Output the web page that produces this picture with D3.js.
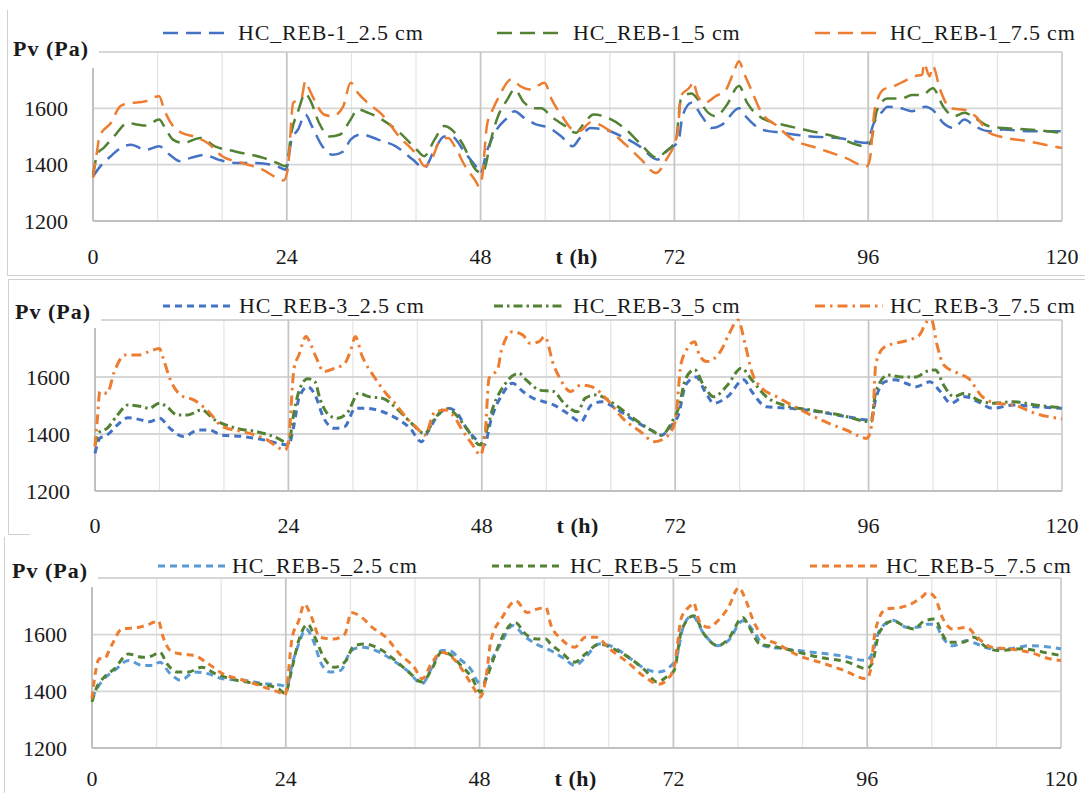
<!DOCTYPE html>
<html>
<head>
<meta charset="utf-8">
<script src="https://cdn.jsdelivr.net/npm/d3@7"></script>
<style>
  html, body { margin: 0; padding: 0; background: #fff; }
  svg { display: block; }
  text { font-family: 'Liberation Serif', 'Times New Roman', serif; fill: #1a1a1a; }
</style>
</head>
<body>
<svg id="chart" width="1085" height="793"></svg>
<script>
// ---------------- DATA ----------------
const xTickLabels = [0, 24, 48, 72, 96, 120];
const majorGrid = [24, 48, 72, 96, 120];
const minorGrid = [8, 16, 32, 40, 56, 64, 80, 88, 104, 112];
const yTickLabels = [1200, 1400, 1600];
const yGridValues = [1200, 1400, 1600, 1800];

const names1 = ["HC_REB-1_2.5 cm", "HC_REB-1_5 cm", "HC_REB-1_7.5 cm"];
const names2 = ["HC_REB-3_2.5 cm", "HC_REB-3_5 cm", "HC_REB-3_7.5 cm"];
const names3 = ["HC_REB-5_2.5 cm", "HC_REB-5_5 cm", "HC_REB-5_7.5 cm"];

const p1Blue = [[0,1358],[0.9,1394],[2.2,1430],[3.4,1459],[4.7,1471],[6.5,1453],[8.2,1465],[9.5,1435],[10.8,1412],[12.1,1424],[13.8,1435],[15.5,1418],[17.6,1406],[20.2,1406],[22.8,1394],[23.9,1382],[24.6,1489],[25.4,1525],[26.3,1578],[27.1,1537],[28.4,1465],[29.7,1435],[31,1447],[31.9,1489],[33.2,1507],[35.3,1489],[37.5,1465],[39.6,1418],[41,1388],[42.3,1453],[43.5,1500],[44.4,1500],[46.1,1441],[47.4,1394],[48,1370],[48.7,1441],[50,1525],[51.3,1566],[52.2,1590],[53.4,1566],[54.7,1545],[56.5,1530],[58,1500],[59.4,1465],[60.3,1495],[61.6,1530],[63.3,1525],[65.5,1500],[67.7,1465],[69.9,1418],[71.2,1453],[72.5,1483],[73,1572],[74.1,1620],[75.4,1572],[76.6,1530],[77.9,1542],[80,1600],[81,1566],[82.8,1525],[85.4,1513],[88.9,1500],[92.3,1495],[95.8,1477],[96.7,1548],[97.8,1590],[98.4,1606],[100.1,1600],[101.4,1590],[103.1,1606],[104,1594],[105.3,1548],[106.6,1530],[107.9,1560],[109.2,1537],[110.9,1519],[112.7,1525],[115.7,1519],[120,1519]];
const p1Green = [[0,1364],[0.6,1441],[1.3,1459],[2.6,1500],[4.3,1548],[5.6,1542],[6.5,1539],[8.2,1560],[8.8,1537],[9.9,1489],[11.2,1477],[13.3,1495],[15.1,1465],[17.6,1447],[21.1,1424],[22.8,1406],[23.9,1394],[24.6,1519],[25.4,1590],[26.3,1653],[26.9,1629],[28,1548],[29.3,1500],[30.6,1507],[31.9,1560],[32.8,1596],[34.1,1584],[35.8,1560],[38,1513],[40.1,1453],[41,1430],[42.3,1489],[43.5,1537],[44.4,1525],[45.7,1477],[47.4,1382],[48.2,1370],[48.7,1406],[49.1,1465],[50,1560],[51.3,1631],[52.2,1667],[53.4,1620],[54.7,1600],[55.5,1600],[56.8,1570],[58.5,1537],[59.8,1513],[60.7,1542],[62,1578],[63.8,1566],[66,1525],[67.7,1477],[69.9,1424],[70.7,1441],[72.2,1489],[72.8,1631],[74.1,1653],[75,1629],[76.2,1584],[77.1,1572],[78.4,1608],[80,1679],[81,1620],[82.8,1566],[85.4,1542],[88,1525],[91.8,1500],[95.8,1465],[96.4,1489],[97.1,1594],[98.4,1635],[100.1,1635],[101.4,1647],[102.7,1647],[104,1671],[105.3,1606],[106.6,1572],[107.9,1584],[109.2,1566],[110.9,1537],[112.7,1530],[115.7,1525],[120,1513]];
const p1Orange = [[0,1353],[0.5,1447],[0.8,1500],[2.2,1548],[3.4,1608],[4.3,1617],[6.5,1625],[7.3,1637],[8.2,1643],[8.8,1596],[9.9,1537],[11,1513],[12.5,1500],[14.2,1477],[16,1430],[18.5,1406],[21,1382],[22.8,1353],[23.6,1344],[24.1,1380],[24.8,1620],[25.8,1634],[26.3,1697],[26.7,1673],[27.5,1625],[28.6,1578],[29.7,1572],[31,1608],[31.9,1691],[32.8,1655],[34,1620],[35.8,1578],[37.9,1500],[40.1,1435],[41.1,1394],[41.8,1412],[43.1,1489],[44,1495],[44.8,1465],[46.1,1394],[47.4,1341],[47.8,1323],[48.2,1358],[48.8,1542],[49.5,1596],[50.3,1643],[51.8,1703],[52.9,1679],[54.2,1667],[55.9,1691],[56.8,1632],[58.1,1572],[59.4,1525],[60.3,1520],[61.6,1550],[62.5,1545],[64,1520],[66,1470],[68,1415],[69.7,1370],[71,1418],[72.4,1513],[72.8,1643],[74,1679],[74.3,1695],[74.9,1643],[75.8,1620],[77.1,1643],[78.4,1667],[79.3,1726],[80,1767],[80.6,1726],[81.5,1667],[82.8,1584],[84.5,1542],[86.7,1489],[89.7,1459],[93.2,1424],[95.8,1394],[96.2,1418],[96.8,1594],[97.9,1667],[99.2,1679],[100.5,1697],[101.8,1714],[102.7,1720],[102.9,1760],[103.6,1714],[104,1750],[104.9,1667],[106.2,1600],[108,1594],[109.3,1572],[111,1513],[112.3,1500],[115.8,1483],[117.9,1471],[120,1459]];

const p2Blue = [[0,1332],[0.6,1385],[1.5,1396],[2.8,1432],[4.1,1457],[5.8,1449],[6.7,1443],[8,1455],[9.3,1420],[11,1391],[12.8,1414],[14.1,1414],[15.8,1396],[18.4,1391],[21,1379],[24,1361],[24.7,1432],[25.3,1525],[26.4,1566],[27.3,1537],[28.4,1455],[29.7,1420],[31,1426],[32.3,1490],[33.5,1490],[35.7,1478],[37.4,1455],[39.1,1420],[40.5,1373],[41.3,1408],[42.6,1467],[43.9,1490],[44.8,1478],[46.1,1420],[47.6,1373],[48.3,1361],[49.2,1455],[50.5,1537],[51.8,1578],[53.1,1549],[54.4,1525],[55.5,1515],[56.9,1502],[58.6,1473],[60.3,1443],[61.6,1502],[62.9,1513],[64.6,1490],[66.8,1449],[69,1414],[70.3,1396],[71.6,1432],[72.4,1467],[73.3,1572],[74.6,1600],[75.7,1549],[76.8,1508],[78.5,1531],[80.5,1590],[81.5,1549],[83.3,1496],[86.3,1490],[89.8,1478],[93.2,1461],[96.3,1449],[96.9,1525],[98,1583],[99.3,1590],[100.6,1578],[101.9,1566],[103.6,1583],[104.9,1549],[106.2,1508],[107.9,1531],[109.6,1513],[111.4,1490],[114,1502],[116.6,1496],[120,1490]];
const p2Green = [[0,1361],[0.6,1408],[1.5,1420],[2.8,1467],[4.1,1502],[5.8,1496],[6.7,1490],[8,1508],[8.9,1496],[10.2,1467],[11.5,1467],[13.2,1484],[14.9,1449],[17.5,1420],[20.1,1408],[22.7,1385],[24,1367],[24.7,1478],[25.3,1549],[26.4,1594],[27.3,1583],[27.9,1525],[29,1467],[30.1,1455],[31.4,1478],[32.7,1543],[34,1531],[35.7,1525],[37.4,1490],[39.1,1443],[40.9,1402],[42.2,1455],[43.5,1490],[44.4,1478],[46.1,1420],[47.8,1361],[48.4,1396],[49.5,1502],[50.8,1572],[52.6,1613],[53.5,1590],[55.2,1554],[56.9,1549],[58.2,1508],[59.9,1478],[60.8,1525],[62.1,1537],[64.6,1502],[66.8,1455],[69,1414],[70.3,1396],[71.6,1443],[72.4,1490],[73.3,1594],[74.4,1626],[75.5,1572],[76.8,1531],[78.5,1572],[80.2,1631],[81.5,1590],[83.3,1531],[85.4,1502],[88.9,1484],[92.4,1467],[96.3,1443],[96.9,1549],[98.4,1607],[100.1,1600],[101.9,1600],[103.1,1619],[104.3,1625],[105.3,1572],[106.6,1531],[107.9,1543],[109.6,1519],[111.4,1508],[114,1513],[116.6,1502],[120,1492]];
const p2Orange = [[0,1356],[0.3,1455],[0.6,1549],[1.5,1543],[2.4,1619],[3.7,1677],[5.4,1677],[6.7,1689],[8,1700],[8.4,1671],[9.3,1594],[10.6,1537],[12.3,1519],[14.1,1478],[15.8,1426],[18.4,1408],[21,1385],[23.6,1344],[24,1373],[24.7,1630],[25.3,1677],[26.2,1742],[26.8,1712],[27.5,1665],[28.4,1619],[29.7,1630],[31,1648],[31.8,1700],[32.3,1742],[33.1,1677],[34.8,1594],[36.1,1543],[37.4,1502],[38.7,1455],[40,1420],[40.9,1396],[42.2,1478],[43.5,1484],[44.4,1467],[45.7,1408],[47,1356],[47.8,1326],[48.4,1396],[48.9,1595],[50,1630],[50.4,1689],[51.8,1759],[53.1,1747],[54,1718],[55.1,1724],[55.8,1742],[56.9,1643],[57.7,1595],[59,1549],[60.3,1572],[61.6,1566],[63.8,1513],[65.5,1455],[67.7,1408],[69.4,1373],[70.7,1385],[72,1443],[72.7,1643],[73.3,1689],[74.4,1724],[75,1677],[75.9,1654],[77.6,1689],[78.7,1752],[79.8,1800],[80.7,1712],[81.5,1619],[82.8,1560],[84.6,1531],[87.2,1490],[90.6,1443],[93.2,1414],[95.8,1385],[96.5,1455],[96.9,1648],[98,1706],[99.3,1718],[101,1730],[102.3,1747],[103.2,1793],[103.8,1800],[104.5,1712],[105.3,1643],[107.1,1613],[108.4,1595],[110.1,1531],[111.8,1508],[114,1502],[116.6,1473],[120,1453]];

const p3Blue = [[0,1374],[0.6,1409],[1.5,1444],[2.8,1474],[4.5,1509],[6.3,1491],[7.5,1491],[8.4,1503],[9.7,1462],[11,1439],[12.7,1468],[14.4,1462],[16.2,1444],[18.8,1439],[21.3,1427],[23.5,1421],[24.1,1415],[24.8,1497],[25.6,1567],[26.5,1620],[27.4,1579],[28.4,1497],[29.5,1468],[30.8,1474],[32.1,1544],[33.4,1556],[35.6,1538],[37.3,1509],[39,1474],[40.9,1427],[42,1480],[43.3,1544],[44.2,1544],[45.5,1515],[47,1474],[47.8,1433],[48.4,1427],[49.3,1497],[50.6,1567],[52.1,1632],[53.7,1591],[55,1567],[56.8,1544],[58.5,1515],[59.8,1491],[61.1,1520],[62.8,1567],[64.6,1556],[66.7,1515],[68.5,1480],[70.2,1468],[71.5,1485],[72.4,1520],[73.2,1626],[74.3,1667],[75.8,1602],[77.5,1561],[78.8,1579],[80.6,1649],[81.9,1614],[83.2,1561],[85.8,1550],[89.2,1538],[92.7,1526],[95.9,1509],[96.6,1532],[97.5,1614],[99.2,1651],[100.9,1626],[102.2,1626],[103.5,1637],[104.4,1637],[105.3,1591],[106.6,1561],[108.3,1579],[109.6,1567],[111.4,1550],[113.5,1550],[116.1,1561],[118.6,1556],[120,1550]];
const p3Green = [[0,1363],[0.6,1415],[1.5,1450],[2.8,1480],[4.5,1532],[6.3,1520],[7.5,1526],[8.4,1538],[9.3,1497],[10.6,1468],[11.9,1468],[13.6,1485],[15.3,1462],[17.9,1439],[20.5,1427],[23.1,1409],[23.9,1392],[24.8,1485],[25.6,1579],[26.7,1637],[27.6,1591],[28.7,1520],[30,1485],[31.3,1503],[32.5,1561],[33.8,1567],[35.6,1550],[37.3,1515],[39,1474],[40.9,1433],[42,1474],[43.3,1538],[44.2,1532],[45.5,1497],[47,1450],[48.1,1398],[48.9,1450],[49.8,1520],[50.6,1579],[52.4,1643],[53.7,1602],[55,1585],[56.2,1585],[56.8,1567],[58.1,1538],[59.8,1503],[61.1,1532],[62.8,1567],[64.6,1550],[66.7,1515],[68.5,1474],[70,1433],[71.1,1450],[72.1,1474],[73,1614],[74.5,1667],[75.8,1602],[77.5,1561],[78.8,1585],[80.6,1661],[81.4,1626],[82.7,1567],[84.9,1556],[87.5,1538],[90.1,1520],[93.6,1503],[95.9,1480],[96.6,1497],[97.5,1608],[99.2,1649],[100.5,1632],[101.8,1620],[103.1,1649],[104.4,1655],[105.3,1602],[106.1,1573],[107.9,1573],[109.2,1591],[110.5,1561],[112.2,1544],[115.2,1550],[117.8,1538],[120,1526]];
const p3Orange = [[0,1374],[0.4,1462],[0.9,1515],[1.5,1515],[2.4,1561],[3.7,1620],[5.8,1626],[7.1,1637],[8.2,1649],[8.8,1592],[9.7,1544],[11,1532],[12.7,1526],[14.4,1497],[16.2,1462],[18.8,1439],[21.3,1415],[23.5,1392],[23.9,1386],[24.8,1591],[25.6,1649],[26.3,1708],[27.2,1661],[28.2,1591],[29.9,1585],[31.3,1602],[32.1,1678],[33.4,1661],[34.7,1626],[36.4,1591],[38.1,1532],[39.9,1485],[40.9,1444],[42,1497],[43.3,1538],[44.6,1520],[45.9,1474],[47.2,1415],[48.1,1380],[48.8,1450],[49.4,1579],[50.8,1661],[52.5,1719],[53.9,1678],[55.1,1690],[56.2,1696],[56.8,1637],[58.1,1585],[59.8,1556],[61.1,1591],[62.4,1591],[64.1,1550],[66.3,1503],[68.5,1450],[70.2,1425],[71.5,1450],[72.1,1485],[73,1661],[74.1,1702],[74.5,1713],[75.2,1649],[76.3,1626],[77.5,1649],[78.8,1696],[80.1,1766],[81,1719],[81.9,1649],[83.2,1591],[84.9,1567],[87.5,1526],[90.1,1503],[93.1,1474],[95.9,1444],[96.4,1474],[97,1614],[98.3,1690],[100.1,1696],[101.4,1708],[102.7,1731],[103.5,1749],[104.4,1731],[105.3,1661],[106.6,1620],[108.3,1626],[109.6,1591],[111.4,1556],[113.5,1550],[116.1,1538],[118.6,1515],[120,1509]];

// ---------------- LAYOUT / STYLE ----------------
const panels = [
  { x0: 93, x1: 1062, yTop: 52, yBot: 221, axisStart: 68, titleX: 13, titleY: 48, legendY: 32, xLabY: 256,
    legX: [163, 497, 815], legTextX: [238, 573, 890],
    series: [p1Blue, p1Green, p1Orange], names: names1,
    colors: ["#4472C4", "#548235", "#ED7D31"],
    dashes: ["15,8", "15,8", "15,8"], width: 2.5 },
  { x0: 95, x1: 1062, yTop: 320, yBot: 491, axisStart: 328, titleX: 15, titleY: 311, legendY: 305, xLabY: 525,
    legX: [163, 494, 815], legTextX: [239, 573, 890],
    series: [p2Blue, p2Green, p2Orange], names: names2,
    colors: ["#4472C4", "#548235", "#ED7D31"],
    dashes: ["7,5", "9,4,2.5,4", "10,5,2.5,5"], width: 3 },
  { x0: 92, x1: 1061, yTop: 578, yBot: 748, axisStart: 587, titleX: 12, titleY: 570, legendY: 565, xLabY: 778,
    legX: [158, 492, 810], legTextX: [232, 570, 886],
    series: [p3Blue, p3Green, p3Orange], names: names3,
    colors: ["#5B9BD5", "#548235", "#ED7D31"],
    dashes: ["7,5", "7,5", "7,5"], width: 3 }
];

const svg = d3.select("#chart");

// panel frames
const frame = svg.append("g").attr("stroke", "#d0d0d0").attr("stroke-width", 1).attr("fill", "none");
frame.append("line").attr("x1", 7.5).attr("x2", 7.5).attr("y1", 10).attr("y2", 275.5);
frame.append("line").attr("x1", 7.5).attr("x2", 1085).attr("y1", 275.5).attr("y2", 275.5);
frame.append("line").attr("x1", 8.5).attr("x2", 1085).attr("y1", 279.5).attr("y2", 279.5);
frame.append("line").attr("x1", 8.5).attr("x2", 8.5).attr("y1", 279.5).attr("y2", 534.5);
frame.append("line").attr("x1", 8.5).attr("x2", 30).attr("y1", 534.5).attr("y2", 534.5);
frame.append("line").attr("x1", 4.5).attr("x2", 4.5).attr("y1", 537).attr("y2", 793);

panels.forEach(p => {
  const x = d3.scaleLinear().domain([0, 120]).range([p.x0, p.x1]);
  const y = d3.scaleLinear().domain([1200, 1800]).range([p.yBot, p.yTop]);
  const g = svg.append("g");

  // minor vertical grid
  g.selectAll(".vmin").data(minorGrid).join("line")
    .attr("x1", d => x(d)).attr("x2", d => x(d))
    .attr("y1", p.yTop).attr("y2", p.yBot)
    .attr("stroke", "#e4e4e4").attr("stroke-width", 1.2);
  // horizontal grid
  g.selectAll(".hgrid").data(yGridValues.filter(v => v > 1200)).join("line")
    .attr("x1", p.x0).attr("x2", p.x1)
    .attr("y1", d => y(d)).attr("y2", d => y(d))
    .attr("stroke", "#d6d6d6").attr("stroke-width", 1.8);
  // major vertical grid
  g.selectAll(".vmaj").data(majorGrid).join("line")
    .attr("x1", d => x(d)).attr("x2", d => x(d))
    .attr("y1", p.yTop).attr("y2", p.yBot)
    .attr("stroke", d => d === 120 ? "#d0d0d0" : "#c6c6c6").attr("stroke-width", 1.8);
  // bottom axis & y axis line
  g.append("line").attr("x1", p.x0).attr("x2", p.x1).attr("y1", y(1200)).attr("y2", y(1200))
    .attr("stroke", "#c0c0c0").attr("stroke-width", 2);
  g.append("line").attr("x1", p.x0).attr("x2", p.x0).attr("y1", p.yTop).attr("y2", p.yBot)
    .attr("stroke", "#c0c0c0").attr("stroke-width", 2);

  // y tick labels
  g.selectAll(".ylab").data(yTickLabels).join("text")
    .attr("x", p.x0 - 25).attr("y", d => y(d))
    .attr("text-anchor", "end").attr("dominant-baseline", "central")
    .attr("font-size", 22).text(d => d);

  // x tick labels
  g.selectAll(".xlab").data(xTickLabels).join("text")
    .attr("x", d => x(d)).attr("y", p.xLabY)
    .attr("text-anchor", "middle").attr("dominant-baseline", "central")
    .attr("font-size", 22).text(d => d);
  g.append("text").attr("x", x(59.9)).attr("y", p.xLabY)
    .attr("text-anchor", "middle").attr("dominant-baseline", "central")
    .attr("font-size", 22).attr("font-weight", "bold").attr("letter-spacing", 0.5).text("t (h)");

  // series
  const line = d3.line().x(d => x(d[0])).y(d => y(d[1])).curve(d3.curveMonotoneX);
  p.series.forEach((s, i) => {
    g.append("path").datum(s).attr("d", line)
      .attr("fill", "none").attr("stroke", p.colors[i])
      .attr("stroke-width", p.width).attr("stroke-dasharray", p.dashes[i])
      .attr("stroke-linejoin", "round");
  });

  // title box and title
  g.append("rect").attr("x", 10).attr("y", p.yTop - 28).attr("width", p.x0 + 6 - 10).attr("height", p.axisStart - (p.yTop - 28))
    .attr("fill", "#fff");
  g.append("text").attr("x", p.titleX).attr("y", p.titleY)
    .attr("dominant-baseline", "central").attr("font-size", 22).attr("font-weight", "bold")
    .attr("letter-spacing", 1).text("Pv (Pa)");

  // legend
  p.names.forEach((n, i) => {
    g.append("line").attr("x1", p.legX[i]).attr("x2", p.legX[i] + 68)
      .attr("y1", p.legendY + 1).attr("y2", p.legendY + 1)
      .attr("stroke", p.colors[i]).attr("stroke-width", p.width).attr("stroke-dasharray", p.dashes[i]);
    g.append("text").attr("x", p.legTextX[i]).attr("y", p.legendY)
      .attr("dominant-baseline", "central").attr("font-size", 22).attr("letter-spacing", 0.8)
      .text(n);
  });
});
</script>
</body>
</html>
